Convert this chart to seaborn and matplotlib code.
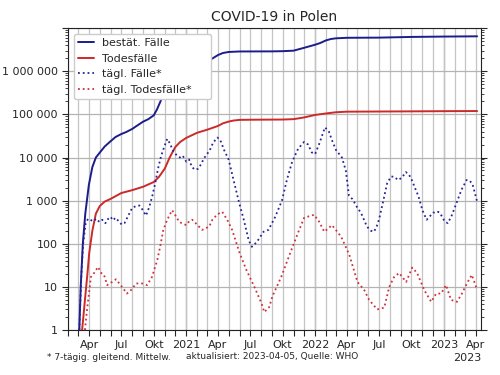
import pandas as pd
import matplotlib
matplotlib.use('Agg')
import matplotlib.pyplot as plt
import matplotlib.dates as mdates
from matplotlib.ticker import FuncFormatter, LogLocator, NullFormatter
import seaborn as sns

# cumulative confirmed cases
cases_dates = ['2020-03-04', '2020-03-08', '2020-03-14', '2020-03-21', '2020-03-31', '2020-04-10',
               '2020-04-20', '2020-05-01', '2020-05-15', '2020-06-01', '2020-06-15', '2020-07-01',
               '2020-07-15', '2020-08-01', '2020-08-15', '2020-09-01', '2020-09-15', '2020-10-01',
               '2020-10-10', '2020-10-20', '2020-11-01', '2020-11-15', '2020-12-01', '2020-12-15',
               '2021-01-01', '2021-02-01', '2021-03-01', '2021-03-15', '2021-04-01', '2021-04-15',
               '2021-05-01', '2021-06-01', '2021-09-01', '2021-10-01', '2021-11-01', '2021-12-01',
               '2022-01-01', '2022-01-15', '2022-02-01', '2022-02-15', '2022-03-01', '2022-04-01',
               '2022-07-01', '2022-10-01', '2023-01-01', '2023-04-05']
cases = [1, 10, 100, 500, 2300, 6000, 10000, 13000, 18000, 24000, 30000, 35000,
         39000, 46000, 55000, 68000, 77000, 95000, 130000, 200000, 400000, 700000, 1000000, 1150000,
         1300000, 1530000, 1720000, 1950000, 2380000, 2650000, 2800000, 2875000, 2890000, 2920000,
         3000000, 3500000, 4120000, 4500000, 5200000, 5600000, 5800000, 5970000, 6020000, 6250000,
         6370000, 6460000]

# cumulative deaths
deaths_dates = ['2020-03-12', '2020-03-20', '2020-03-27', '2020-04-01', '2020-04-10', '2020-04-20',
                '2020-05-01', '2020-05-15', '2020-06-01', '2020-07-01', '2020-08-01', '2020-09-01',
                '2020-10-01', '2020-10-15', '2020-11-01', '2020-11-15', '2020-12-01', '2020-12-15',
                '2021-01-01', '2021-02-01', '2021-03-01', '2021-04-01', '2021-04-15', '2021-05-01',
                '2021-05-15', '2021-06-01', '2021-07-01', '2021-10-01', '2021-11-01', '2021-12-01',
                '2022-01-01', '2022-02-01', '2022-03-01', '2022-04-01', '2022-07-01', '2022-10-01',
                '2023-01-01', '2023-04-05']
deaths = [1, 5, 20, 60, 200, 500, 750, 950, 1100, 1500, 1750, 2100,
          2700, 3500, 5500, 10000, 17500, 23000, 28500, 37500, 44000, 54000, 62000, 68000,
          72000, 74500, 75100, 75900, 77500, 85000, 97000, 105000, 112000, 115500, 116500, 117500,
          118600, 119500]

# daily cases, 7-day average
daily_cases_dates = ['2020-03-04', '2020-03-10', '2020-03-15', '2020-03-22', '2020-03-29', '2020-04-05',
                     '2020-04-12', '2020-04-21', '2020-04-30', '2020-05-08', '2020-05-17', '2020-05-25',
                     '2020-06-01', '2020-06-07', '2020-06-15', '2020-06-24', '2020-07-02', '2020-07-10',
                     '2020-07-22', '2020-08-01', '2020-08-12', '2020-08-21', '2020-08-30', '2020-09-09',
                     '2020-09-18', '2020-09-27', '2020-10-05', '2020-10-13', '2020-10-22', '2020-10-31',
                     '2020-11-08', '2020-11-16', '2020-11-25', '2020-12-06', '2020-12-14', '2020-12-22',
                     '2021-01-01', '2021-01-09', '2021-01-17', '2021-01-26', '2021-02-04', '2021-02-12',
                     '2021-02-20', '2021-03-01', '2021-03-09', '2021-03-18', '2021-03-30', '2021-04-07',
                     '2021-04-18', '2021-05-01', '2021-05-15', '2021-05-30', '2021-06-13', '2021-06-27',
                     '2021-07-06', '2021-07-20', '2021-08-08', '2021-08-22', '2021-09-10', '2021-09-29',
                     '2021-10-13', '2021-10-28', '2021-11-14', '2021-12-01', '2021-12-12', '2021-12-23',
                     '2022-01-01', '2022-01-12', '2022-01-29', '2022-02-09', '2022-02-18', '2022-03-01',
                     '2022-03-18', '2022-03-29', '2022-04-07', '2022-04-16', '2022-04-21', '2022-04-30',
                     '2022-05-11', '2022-05-28', '2022-06-08', '2022-06-17', '2022-06-25', '2022-07-01',
                     '2022-07-12', '2022-07-24', '2022-08-04', '2022-08-13', '2022-08-24', '2022-09-04',
                     '2022-09-15', '2022-09-24', '2022-10-02', '2022-10-13', '2022-10-21', '2022-11-01',
                     '2022-11-13', '2022-11-24', '2022-12-02', '2022-12-11', '2022-12-16', '2022-12-25',
                     '2023-01-03', '2023-01-12', '2023-01-23', '2023-02-06', '2023-02-20', '2023-03-06',
                     '2023-03-15', '2023-03-23', '2023-04-05']
daily_cases = [1, 20, 100, 300, 380, 360,
               330, 380, 320, 360, 300, 380,
               420, 350, 400, 330, 280, 300,
               470, 680, 750, 770, 620, 450,
               700, 1300, 2500, 5500, 11000, 18000,
               27000, 21000, 14000, 11000, 10000, 11000,
               8000, 9000, 6000, 5200, 5500, 7000,
               9500, 12000, 15000, 22000, 29000, 26000,
               15000, 9000, 3000, 950, 360, 120,
               85, 110, 190, 210, 420, 1000,
               3000, 8000, 16000, 23000, 20000, 13000,
               12000, 20000, 50000, 40000, 25000, 15000,
               10000, 5000, 1300, 1100, 950, 700,
               520, 250, 200, 190, 260, 360,
               900, 2500, 3600, 3600, 3000, 3400,
               4600, 4000, 3000, 1800, 1250, 600,
               360, 450, 530, 520, 550, 450,
               330, 300, 450, 900, 1800, 3000,
               2900, 2400, 950]

# daily deaths, 7-day average
daily_deaths_dates = ['2020-03-20', '2020-03-26', '2020-04-06', '2020-04-15', '2020-04-26', '2020-05-05',
                      '2020-05-13', '2020-05-22', '2020-06-05', '2020-06-16', '2020-07-03', '2020-07-17',
                      '2020-07-29', '2020-08-12', '2020-08-29', '2020-09-12', '2020-09-26', '2020-10-11',
                      '2020-10-19', '2020-10-28', '2020-11-08', '2020-11-22', '2020-12-04', '2020-12-12',
                      '2021-01-01', '2021-01-09', '2021-01-18', '2021-02-06', '2021-02-15', '2021-03-07',
                      '2021-03-16', '2021-03-30', '2021-04-13', '2021-04-27', '2021-05-11', '2021-05-31',
                      '2021-06-20', '2021-07-13', '2021-08-02', '2021-08-10', '2021-08-24', '2021-09-02',
                      '2021-09-27', '2021-10-28', '2021-11-17', '2021-12-01', '2021-12-29', '2022-01-12',
                      '2022-01-27', '2022-02-18', '2022-03-16', '2022-04-08', '2022-05-01', '2022-05-20',
                      '2022-06-03', '2022-06-26', '2022-07-16', '2022-07-30', '2022-08-13', '2022-08-27',
                      '2022-09-16', '2022-10-03', '2022-10-17', '2022-11-06', '2022-11-26', '2022-12-10',
                      '2022-12-24', '2023-01-07', '2023-01-21', '2023-02-07', '2023-02-21', '2023-03-07',
                      '2023-03-21', '2023-04-04']
daily_deaths = [1, 3, 17, 21, 29, 21,
                19, 11, 13, 15, 10, 7,
                8.5, 12, 12, 11, 17, 42,
                85, 210, 360, 600, 420, 320,
                270, 330, 360, 250, 210, 250,
                360, 480, 550, 360, 210, 65,
                25, 10, 4.2, 2.6, 3.4, 6,
                17, 80, 210, 400, 470, 330,
                190, 270, 145, 55, 13, 8.5,
                5, 3, 3.3, 10, 17, 21,
                13, 28, 21, 8.5, 4.5, 7,
                7, 11, 5, 4.5, 7, 12,
                19, 9]

month_names = {4: 'Apr', 7: 'Jul', 10: 'Okt'}

sns.set_style('white')
plt.rcParams['font.family'] = ['DejaVu Sans']

fig, ax = plt.subplots(figsize=(5, 3.75), dpi=100)
fig.subplots_adjust(left=0.136, right=0.962, top=0.925, bottom=0.12)

sns.lineplot(x=pd.to_datetime(cases_dates), y=cases, ax=ax, color='#1c1c8c', lw=1.4,
             label='bestät. Fälle')
sns.lineplot(x=pd.to_datetime(deaths_dates), y=deaths, ax=ax, color='#cc2a2a', lw=1.4,
             label='Todesfälle')
sns.lineplot(x=pd.to_datetime(daily_cases_dates), y=daily_cases, ax=ax, color='#24249a', lw=1.3,
             linestyle=':', label='tägl. Fälle*')
sns.lineplot(x=pd.to_datetime(daily_deaths_dates), y=daily_deaths, ax=ax, color='#d0303c', lw=1.3,
             linestyle=':', label='tägl. Todesfälle*')

ax.set_yscale('log')
ax.set_ylim(1, 1e7)
ax.set_xlim(pd.Timestamp('2020-02-01'), pd.Timestamp('2023-04-16'))

ax.yaxis.set_major_locator(LogLocator(base=10, numticks=10))
ax.yaxis.set_minor_locator(LogLocator(base=10, subs=range(2, 10), numticks=20))
ax.yaxis.set_minor_formatter(NullFormatter())
ax.yaxis.set_major_formatter(FuncFormatter(
    lambda v, p: '' if v >= 5e6 or v < 1 else format(int(round(v)), ',').replace(',', ' ')))

def xlabel(v, p):
    d = mdates.num2date(v)
    if d.month == 1:
        return str(d.year)
    return month_names.get(d.month, '')

ax.xaxis.set_major_locator(mdates.MonthLocator(bymonth=[1, 4, 7, 10]))
ax.xaxis.set_minor_locator(mdates.MonthLocator())
ax.xaxis.set_major_formatter(FuncFormatter(xlabel))

ax.grid(True, which='both', axis='x', color='#c4c4c4', lw=0.9)
ax.grid(True, which='major', axis='y', color='#b4b4b4', lw=0.9)
for yr in [2021, 2022, 2023]:
    ax.axvline(pd.Timestamp(f'{yr}-01-01'), color='#8c8c8c', lw=0.9, zorder=0.5)

ax.tick_params(axis='both', which='major', labelsize=8, direction='out', length=4, width=0.8,
               bottom=True, left=True, top=False)
ax.tick_params(axis='x', which='minor', direction='out', length=4, width=0.8, bottom=True, top=False)
ax.tick_params(axis='y', which='both', right=True, left=True)
ax.tick_params(axis='y', which='minor', length=2, width=0.6)
for s in ax.spines.values():
    s.set_color('#222222')
    s.set_linewidth(0.8)

ax.set_xlabel('')
ax.set_ylabel('')
ax.legend(loc='upper left', bbox_to_anchor=(0.0, 0.0, 0.36, 1.0), mode='expand',
          fontsize=8, handlelength=1.4, framealpha=1, edgecolor='#cccccc')

fig.text(0.549, 0.955, 'COVID-19 in Polen', ha='center', va='center', fontsize=10)
fig.text(0.962, 0.046, '2023', ha='right', va='center', fontsize=8)
fig.text(0.094, 0.048, '* 7-tägig. gleitend. Mittelw.', ha='left', va='center', fontsize=6.5)
fig.text(0.372, 0.048, 'aktualisiert: 2023-04-05, Quelle: WHO', ha='left', va='center', fontsize=6.5)

fig.savefig('out.png', dpi=100)
